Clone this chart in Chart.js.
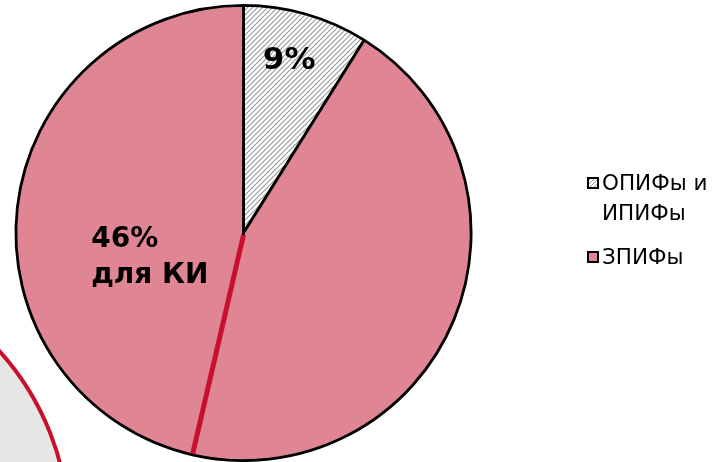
<!DOCTYPE html>
<html><head><meta charset="utf-8">
<script src="https://cdn.jsdelivr.net/npm/chart.js@4"></script>
<style>
html,body{margin:0;padding:0;background:#fff;width:725px;height:462px;overflow:hidden;}
#wrap{position:absolute;left:0;top:0;width:725px;height:462px;}
#deco{position:absolute;left:-473px;top:260px;width:544px;height:544px;border-radius:50%;background:#e6e6e6;border:4px solid #c8102e;box-sizing:border-box;}
#legend{position:absolute;left:587px;top:168px;font-family:"DejaVu Sans",sans-serif;font-size:21.5px;color:#000;line-height:30px;}
.li{display:flex;align-items:flex-start;margin-bottom:14px;}
.mk{width:8px;height:8px;border:2px solid #000;margin-top:9px;margin-right:3px;flex:none;}
.tx{display:inline-block;width:118px;text-align:left;line-height:30px;}
</style></head>
<body>
<div id="deco"></div>
<div id="wrap"><canvas id="c" width="725" height="462"></canvas></div>
<div id="legend"></div>
<script>
const categories = ['ОПИФы и ИПИФы', 'ЗПИФы'];
const segmentNames = ['ОПИФы и ИПИФы', 'ЗПИФы', 'ЗПИФы для КИ'];
const segmentValues = [8.9, 44.7, 46.4];
const segmentLabels = [['9%'], [], ['46%', 'для КИ']];
const segmentGroup = [0, 1, 1];

const PINK = '#e08594';
const RED = '#c8102e';

function hatch(){
  const s = 5;
  const p = document.createElement('canvas'); p.width = s; p.height = s;
  const g = p.getContext('2d');
  g.fillStyle = '#fff'; g.fillRect(0,0,s,s);
  g.strokeStyle = '#999999'; g.lineWidth = 1.1;
  g.beginPath();
  g.moveTo(-1, s+1); g.lineTo(s+1, -1);
  g.moveTo(-1, 1); g.lineTo(1, -1);
  g.moveTo(s-1, s+1); g.lineTo(s+1, s-1);
  g.stroke();
  return g.createPattern(p, 'repeat');
}
const hatchFill = hatch();
const groupFill = [hatchFill, PINK];

const overlay = {
  id: 'overlay',
  afterDatasetsDraw(chart){
    const c = chart.ctx;
    const meta = chart.getDatasetMeta(0);
    const a = meta.data[2];
    c.save();
    c.strokeStyle = RED; c.lineWidth = 5; c.lineCap = 'butt';
    c.beginPath();
    c.moveTo(a.x, a.y + 2);
    c.lineTo(a.x + Math.cos(a.startAngle) * (a.outerRadius - 1), a.y + Math.sin(a.startAngle) * (a.outerRadius - 1));
    c.stroke();
    c.restore();
    c.save();
    c.fillStyle = '#000';
    c.textBaseline = 'middle';
    meta.data.forEach((el, i) => {
      const lines = segmentLabels[i];
      if (!lines.length) return;
      const mid = (el.startAngle + el.endAngle) / 2;
      if (i === 0) {
        const x = el.x + Math.cos(mid) * el.outerRadius * 0.79;
        const y = el.y + Math.sin(mid) * el.outerRadius * 0.79;
        c.font = 'bold 31px "DejaVu Sans"';
        c.textAlign = 'center';
        c.fillText(lines[0], x - 4, y + 1);
      } else {
        const x = el.x + Math.cos(mid) * el.outerRadius * 0.66;
        const y = el.y + Math.sin(mid) * el.outerRadius * 0.66;
        c.font = 'bold 28px "DejaVu Sans"';
        c.textAlign = 'left';
        const lh = 36;
        lines.forEach((t, k) => c.fillText(t, x - 3, y + 42 + (k - (lines.length - 1) / 2) * lh));
      }
    });
    c.restore();
  }
};

new Chart(document.getElementById('c'), {
  type: 'pie',
  data: {
    labels: segmentNames,
    datasets: [{
      data: segmentValues,
      backgroundColor: segmentGroup.map(g => groupFill[g]),
      borderColor: '#000',
      borderWidth: 2.8,
      hoverOffset: 0
    }]
  },
  options: {
    responsive: false,
    animation: false,
    events: [],
    layout: {padding: {left: 14, right: 252, top: 4, bottom: 0}},
    plugins: {legend: {display: false}, tooltip: {enabled: false}}
  },
  plugins: [overlay]
});

const lg = document.getElementById('legend');
categories.forEach((name, i) => {
  const li = document.createElement('div'); li.className = 'li';
  const mk = document.createElement('div'); mk.className = 'mk';
  if (i === 0) {
    mk.style.background = 'repeating-linear-gradient(-45deg,#fff 0 1.5px,#999 1.5px 2.8px)';
  } else mk.style.background = PINK;
  const tx = document.createElement('div'); tx.className = 'tx';
  tx.textContent = name;
  li.appendChild(mk); li.appendChild(tx); lg.appendChild(li);
});
</script>
</body></html>
